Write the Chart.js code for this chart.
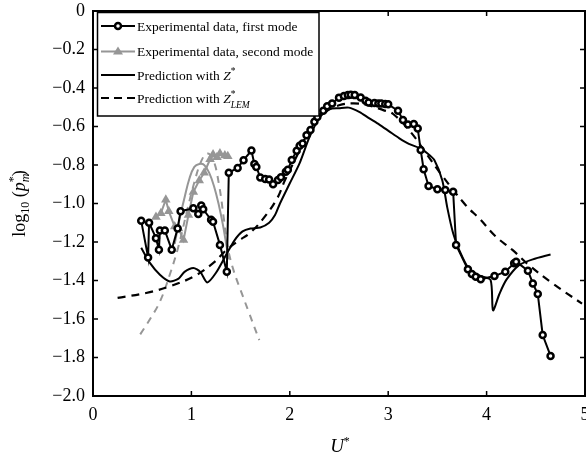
<!DOCTYPE html>
<html>
<head>
<meta charset="utf-8">
<script src="https://cdn.jsdelivr.net/npm/chart.js@4/dist/chart.umd.min.js"></script>
<style>
  html, body { margin: 0; padding: 0; background: #fff; }
  #wrap { width: 586px; height: 456px; }
</style>
</head>
<body>
<div id="wrap"><canvas id="modeChart" width="586" height="456"></canvas></div>
<script>
// Experimental data, first mode (U*, log10 p*m)
const firstModeU = [0.49, 0.56, 0.57, 0.64, 0.67, 0.68, 0.73, 0.80, 0.86, 0.89, 1.02, 1.07, 1.10, 1.12, 1.20, 1.22, 1.29, 1.36,
  1.38, 1.47, 1.53, 1.61, 1.64, 1.66, 1.70, 1.75, 1.79, 1.83, 1.88, 1.91, 1.96, 1.98, 2.02, 2.07, 2.10, 2.13, 2.17, 2.21,
  2.25, 2.28, 2.34, 2.38, 2.43, 2.50, 2.55, 2.59, 2.62, 2.66, 2.72, 2.77, 2.80, 2.86, 2.90, 2.93, 2.97, 3.00, 3.10, 3.15,
  3.20, 3.26, 3.30, 3.33, 3.36, 3.41, 3.50, 3.58, 3.66, 3.69, 3.81, 3.85, 3.89, 3.94, 4.08, 4.19, 4.28, 4.30, 4.42, 4.47,
  4.52, 4.57, 4.65];
const firstModeP = [-1.09, -1.28, -1.10, -1.18, -1.24, -1.14, -1.14, -1.24, -1.13, -1.04, -1.025, -1.055, -1.01, -1.03, -1.085, -1.095, -1.215, -1.355,
  -0.84, -0.815, -0.775, -0.725, -0.795, -0.81, -0.865, -0.873, -0.875, -0.90, -0.878, -0.864, -0.835, -0.825, -0.774, -0.726, -0.70, -0.688, -0.646, -0.618,
  -0.575, -0.55, -0.518, -0.495, -0.48, -0.45, -0.442, -0.437, -0.435, -0.437, -0.449, -0.466, -0.475, -0.478, -0.48, -0.48, -0.483, -0.485, -0.518, -0.566,
  -0.59, -0.587, -0.61, -0.722, -0.822, -0.909, -0.926, -0.93, -0.939, -1.216, -1.342, -1.366, -1.38, -1.394, -1.377, -1.354, -1.31, -1.302, -1.349, -1.415,
  -1.47, -1.683, -1.792];

// Experimental data, second mode
const secondModeU = [0.64, 0.69, 0.74, 0.77, 0.83, 0.87, 0.92, 0.97, 1.02, 1.08, 1.13, 1.19, 1.22, 1.26, 1.29, 1.34, 1.37];
const secondModeP = [-1.07, -1.05, -0.98, -1.04, -1.12, -1.13, -1.19, -1.06, -0.94, -0.88, -0.84, -0.77, -0.745, -0.76, -0.74, -0.75, -0.755];

// Prediction with Z*, first mode
const predZU = [0.49, 0.58, 0.68, 0.78, 0.87, 0.93, 1.02, 1.09, 1.16, 1.25, 1.36, 1.44, 1.52, 1.60, 1.70, 1.79, 1.85, 1.90,
  2.00, 2.10, 2.20, 2.30, 2.40, 2.50, 2.60, 2.71, 2.80, 2.91, 3.01, 3.11, 3.21, 3.32, 3.40, 3.47, 3.55, 3.60, 3.66, 3.72,
  3.82, 3.93, 4.04, 4.065, 4.13, 4.20, 4.33, 4.47, 4.65];
const predZP = [-1.23, -1.31, -1.37, -1.405, -1.39, -1.355, -1.335, -1.355, -1.41, -1.36, -1.26, -1.19, -1.145, -1.13, -1.125, -1.10, -1.06, -1.0,
  -0.895, -0.79, -0.655, -0.555, -0.51, -0.505, -0.502, -0.525, -0.555, -0.59, -0.625, -0.66, -0.69, -0.713, -0.74, -0.775, -0.88, -1.02, -1.155, -1.24,
  -1.34, -1.375, -1.397, -1.555, -1.47, -1.397, -1.32, -1.29, -1.265];

// Prediction with Z*_LEM, first mode
const predLemU = [0.25, 0.54, 0.78, 1.02, 1.22, 1.36, 1.49, 1.59, 1.72, 1.87, 1.95, 2.06, 2.20, 2.35, 2.50, 2.65, 2.80, 2.95,
  3.05, 3.23, 3.40, 3.54, 3.79, 3.93, 4.09, 4.26, 4.43, 4.67, 4.97];
const predLemP = [-1.49, -1.465, -1.43, -1.38, -1.31, -1.24, -1.19, -1.155, -1.085, -0.975, -0.88, -0.765, -0.62, -0.53, -0.49, -0.48, -0.49, -0.515,
  -0.535, -0.63, -0.75, -0.85, -1.01, -1.08, -1.17, -1.24, -1.32, -1.415, -1.52];

// Predictions for the second mode (grey)
const pred2ZU = [0.83, 0.88, 0.93, 0.98, 1.03, 1.08, 1.13, 1.18, 1.23, 1.28, 1.32, 1.36, 1.38];
const pred2ZP = [-1.21, -1.08, -0.97, -0.87, -0.81, -0.795, -0.80, -0.84, -0.91, -1.01, -1.11, -1.23, -1.29];
const pred2LemU = [0.48, 0.58, 0.68, 0.78, 0.87, 0.95, 1.03, 1.10, 1.16, 1.22, 1.28, 1.33, 1.37, 1.43, 1.50, 1.58, 1.69];
const pred2LemP = [-1.68, -1.60, -1.51, -1.37, -1.22, -1.05, -0.89, -0.78, -0.74, -0.77, -0.90, -1.08, -1.23, -1.35, -1.45, -1.56, -1.71];

const xTicks = [0, 1, 2, 3, 4, 5];

const SERIF = "'Liberation Serif', 'Times New Roman', serif";
const GREY = "rgb(150,150,150)";

const pts = (us, ps) => us.map((u, i) => ({ x: u, y: ps[i] }));

// draws a run of text pieces (normal / italic / sub / superscript)
function drawRich(ctx, parts, x, y, center) {
  let total = 0;
  const widths = parts.map((p) => {
    ctx.font = (p.italic ? "italic " : "") + p.size + "px " + SERIF;
    const w = ctx.measureText(p.t).width;
    if (!p.stack) total += w;
    return w;
  });
  let cx = center ? x - total / 2 : x;
  let lastX = cx;
  parts.forEach((p, i) => {
    ctx.font = (p.italic ? "italic " : "") + p.size + "px " + SERIF;
    const px = p.stack ? lastX : cx;
    ctx.fillText(p.t, px, y + (p.dy || 0));
    if (!p.stack) { lastX = cx; cx += widths[i]; }
  });
}

const framePlugin = {
  id: "frame",
  afterDraw(chart) {
    const { ctx, chartArea: a, scales } = chart;
    ctx.save();
    ctx.strokeStyle = "#000";
    ctx.lineWidth = 1.5;
    ctx.beginPath();
    xTicks.forEach((v) => {
      const px = scales.x.getPixelForValue(v);
      ctx.moveTo(px, a.bottom); ctx.lineTo(px, a.bottom - 5);
      ctx.moveTo(px, a.top); ctx.lineTo(px, a.top + 5);
    });
    for (let v = -2; v <= 0.001; v += 0.2) {
      const py = scales.y.getPixelForValue(v);
      ctx.moveTo(a.left, py); ctx.lineTo(a.left + 5, py);
      ctx.moveTo(a.right, py); ctx.lineTo(a.right - 5, py);
    }
    ctx.stroke();
    ctx.lineWidth = 2;
    ctx.strokeRect(a.left, a.top, a.right - a.left, a.bottom - a.top);

    // legend box
    const lx = 97.5, ly = 12.5, lw = 221.5, lh = 103.5;
    ctx.fillStyle = "#fff";
    ctx.fillRect(lx, ly, lw, lh);
    ctx.lineWidth = 1.5;
    ctx.strokeRect(lx, ly, lw, lh);
    const rows = [26, 51.5, 75, 98];
    const sx0 = 101, sx1 = 135, tx = 137;
    ctx.lineWidth = 2;
    // row 1
    ctx.strokeStyle = "#000";
    ctx.beginPath(); ctx.moveTo(sx0, rows[0]); ctx.lineTo(sx1, rows[0]); ctx.stroke();
    ctx.lineWidth = 2.5;
    ctx.beginPath(); ctx.arc((sx0 + sx1) / 2, rows[0], 3, 0, Math.PI * 2);
    ctx.fillStyle = "#fff"; ctx.fill(); ctx.stroke();
    ctx.lineWidth = 2;
    // row 2
    ctx.strokeStyle = GREY; ctx.fillStyle = GREY;
    ctx.beginPath(); ctx.moveTo(sx0, rows[1]); ctx.lineTo(sx1, rows[1]); ctx.stroke();
    const mx = (sx0 + sx1) / 2;
    ctx.beginPath(); ctx.moveTo(mx, rows[1] - 5); ctx.lineTo(mx + 5, rows[1] + 3); ctx.lineTo(mx - 5, rows[1] + 3); ctx.closePath(); ctx.fill();
    // row 3
    ctx.strokeStyle = "#000";
    ctx.beginPath(); ctx.moveTo(sx0, rows[2]); ctx.lineTo(sx1, rows[2]); ctx.stroke();
    // row 4
    ctx.setLineDash([8, 5]);
    ctx.beginPath(); ctx.moveTo(sx0, rows[3]); ctx.lineTo(sx1, rows[3]); ctx.stroke();
    ctx.setLineDash([]);

    ctx.fillStyle = "#000";
    ctx.textBaseline = "alphabetic";
    ctx.textAlign = "left";
    const fs = 13.5;
    drawRich(ctx, [{ t: "Experimental data, first mode", size: fs }], tx, rows[0] + 4.5);
    drawRich(ctx, [{ t: "Experimental data, second mode", size: fs }], tx, rows[1] + 4.5);
    drawRich(ctx, [{ t: "Prediction with ", size: fs }, { t: "Z", size: fs, italic: true },
      { t: "*", size: 9.5, dy: -6 }], tx, rows[2] + 4.5);
    drawRich(ctx, [{ t: "Prediction with ", size: fs }, { t: "Z", size: fs, italic: true },
      { t: "*", size: 9.5, dy: -6 }, { t: "LEM", size: 9.5, italic: true, dy: 5, stack: true }], tx, rows[3] + 4.5);

    // x axis title
    drawRich(ctx, [{ t: "U", size: 19, italic: true }, { t: "*", size: 12, dy: -7 }], 340, 452, true);

    // y axis title, rotated
    ctx.translate(25, (a.top + a.bottom) / 2);
    ctx.rotate(-Math.PI / 2);
    drawRich(ctx, [{ t: "log", size: 18 }, { t: "10", size: 12, dy: 4 }, { t: " (", size: 18 },
      { t: "p", size: 18, italic: true }, { t: "*", size: 12, dy: -8 },
      { t: "m", size: 12, italic: true, dy: 4, stack: true }, { t: ")", size: 18 }], 0, 0, true);
    ctx.restore();
  },
};

const ctx = document.getElementById("modeChart").getContext("2d");
const modeChart = new Chart(ctx, {
  type: "line",
  data: {
    datasets: [
      {
        label: "Experimental data, first mode",
        data: pts(firstModeU, firstModeP),
        borderColor: "#000",
        backgroundColor: "#fff",
        borderWidth: 2,
        pointRadius: 3,
        pointBorderWidth: 2.5,
        pointStyle: "circle",
        tension: 0,
      },
      {
        label: "Experimental data, second mode",
        data: pts(secondModeU, secondModeP),
        borderColor: GREY,
        backgroundColor: GREY,
        borderWidth: 2,
        pointRadius: 5.5,
        pointBorderWidth: 0,
        pointStyle: "triangle",
        tension: 0,
      },
      {
        label: "Prediction with Z*",
        data: pts(predZU, predZP),
        borderColor: "#000",
        borderWidth: 2,
        pointRadius: 0,
        tension: 0.25,
      },
      {
        label: "Prediction with Z*_LEM",
        data: pts(predLemU, predLemP),
        borderColor: "#000",
        borderWidth: 2.2,
        borderDash: [8, 6],
        pointRadius: 0,
        tension: 0.4,
      },
      {
        label: "Second mode, Z*",
        data: pts(pred2ZU, pred2ZP),
        borderColor: GREY,
        borderWidth: 2,
        pointRadius: 0,
        tension: 0.4,
      },
      {
        label: "Second mode, Z*_LEM",
        data: pts(pred2LemU, pred2LemP),
        borderColor: GREY,
        borderWidth: 2,
        borderDash: [7, 6],
        pointRadius: 0,
        tension: 0.4,
      },
    ],
  },
  options: {
    responsive: false,
    animation: false,
    layout: { autoPadding: false, padding: { top: 11, right: 1, left: 0, bottom: 0 } },
    plugins: {
      legend: { display: false },
      tooltip: { enabled: false },
    },
    scales: {
      x: {
        type: "linear",
        min: 0,
        max: 5,
        afterFit: (s) => { s.height = 60; s.paddingLeft = 0; s.paddingRight = 0; },
        afterBuildTicks: (s) => { s.ticks = xTicks.map((v) => ({ value: v })); },
        grid: { display: false, drawTicks: false },
        border: { display: false },
        ticks: { padding: 8, color: "#000", font: { family: SERIF, size: 18 }, maxRotation: 0 },
      },
      y: {
        min: -2,
        max: 0,
        afterFit: (s) => { s.width = 93; s.paddingTop = 0; s.paddingBottom = 0; },
        grid: { display: false, drawTicks: false },
        border: { display: false },
        ticks: {
          stepSize: 0.2,
          padding: 8,
          color: "#000",
          font: { family: SERIF, size: 18 },
          callback: (v) => (Math.abs(v) < 1e-9 ? "0" : "\u2212" + Math.abs(v).toFixed(1)),
        },
      },
    },
  },
  plugins: [framePlugin],
});
</script>
</body>
</html>
